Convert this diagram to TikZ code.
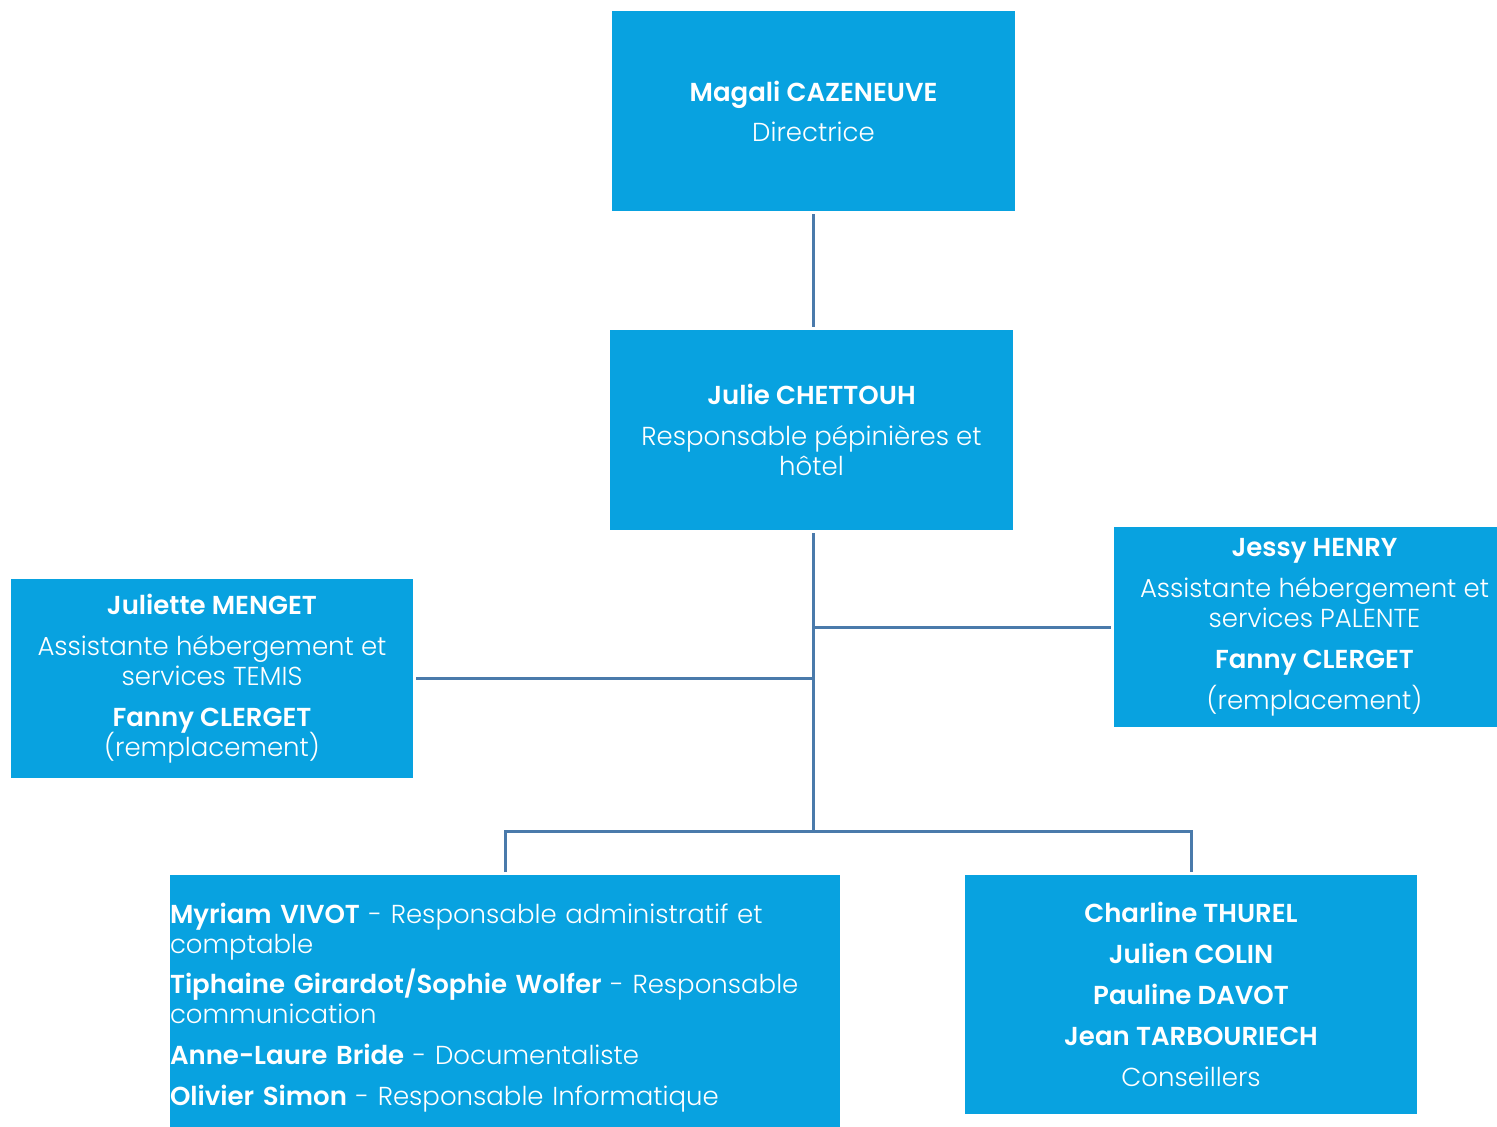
\documentclass[tikz,border=0pt]{standalone}
\usepackage{fontspec}
\setmainfont{Poppins Light}[BoldFont={Poppins SemiBold}]
\usepackage{tikz}
\usetikzlibrary{positioning}
\usetikzlibrary{calc}

\definecolor{boxblue}{HTML}{08A2E0}
\definecolor{linkblue}{HTML}{4A7AAB}

\newcommand{\orgfont}{\fontsize{13pt}{15pt}\selectfont\lineskiplimit=-10pt\relax}

\begin{document}
\begin{tikzpicture}[
		x=0.5pt,
		y=-0.5pt,
		font=\orgfont,
	]
		\tikzset{staffbox/.style={
			fill=boxblue,
			rectangle,
			text=white,
			align=center,
			inner sep=0,
			outer sep=1.5,
		}}
		\tikzset{link/.style={
			draw=linkblue,
			line width=1.5pt,
		}}

		\useasboundingbox (0,0) rectangle (1497,1126);

		\node[
			staffbox,
			minimum width=201.5pt,
			minimum height=100pt,
		] (directrice) at (813.5,111) {\textbf{Magali CAZENEUVE}\\[5pt]Directrice};

		\node[
			staffbox,
			minimum width=201.5pt,
			minimum height=100pt,
		] (chettouh) at (811.5,430) {\textbf{Julie CHETTOUH}\\[5.5pt]Responsable pépinières et\\hôtel};

		\node[
			staffbox,
			minimum width=201pt,
			minimum height=99.5pt,
		] (menget) at (212,678.5) {\textbf{Juliette MENGET}\\[5.5pt]Assistante hébergement et\\services TEMIS\\[5.5pt]\textbf{Fanny CLERGET}\\(remplacement)};

		% box runs past the right edge of the page
		\node[
			staffbox,
			minimum width=201pt,
			minimum height=100pt,
		] (henry) at (1314.5,627) {\textbf{Jessy HENRY}\\[5.5pt]Assistante hébergement et\\services PALENTE\\[5.5pt]\textbf{Fanny CLERGET}\\[5.5pt](remplacement)};

		% box runs past the bottom of the page
		\node[
			staffbox,
			align=left,
			text width=335pt,
			minimum height=133pt,
		] (equipe) at (505,1008) {\textbf{Myriam VIVOT} - Responsable administratif et\\comptable\\[5pt]\textbf{Tiphaine Girardot/Sophie Wolfer} - Responsable\\communication\\[5.5pt]\textbf{Anne-Laure Bride} - Documentaliste\\[5.5pt]\textbf{Olivier Simon} - Responsable Informatique};

		\node[
			staffbox,
			minimum width=226pt,
			minimum height=119.5pt,
		] (conseillers) at (1191,994.5) {\textbf{Charline THUREL}\\[5.5pt]\textbf{Julien COLIN}\\[5.5pt]\textbf{Pauline DAVOT}\\[5.5pt]\textbf{Jean TARBOURIECH}\\[5.5pt]Conseillers};

		\coordinate (hub) at (813,831);

		\draw[link] (directrice.south -| hub) -- (chettouh.north -| hub);
		\draw[link] (chettouh.south -| hub) -- (hub);
		\draw[link] (henry.west) -- (henry.west -| hub);
		\draw[link] (menget.east) -- (menget.east -| hub);
		\draw[link] (equipe.north) |- (hub) -| (conseillers.north);
	\end{tikzpicture}
\end{document}
